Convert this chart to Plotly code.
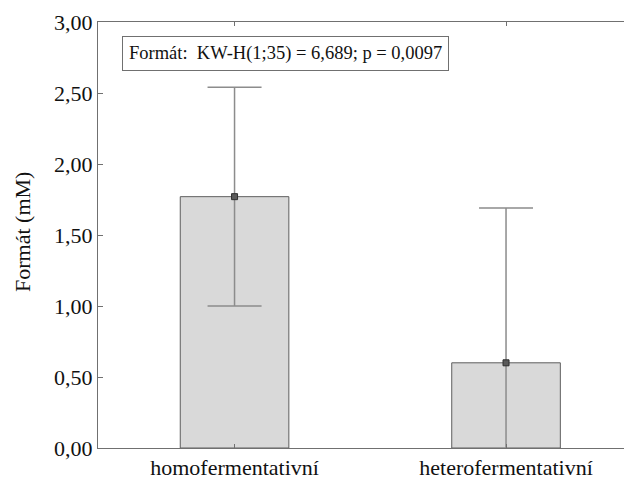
import plotly.graph_objects as go

categories = ["homofermentativní", "heterofermentativní"]
means = [1.77, 0.60]
sd = [0.77, 1.09]
y_ticks = [0.0, 0.5, 1.0, 1.5, 2.0, 2.5, 3.0]
stat_text = "Formát:\u00a0 KW-H(1;35) = 6,689; p = 0,0097"
y_title = "Formát (mM)"

FONT = "Liberation Serif"

# the page body adds an 8px offset; figure is sized so the plot lands where the reference has it
W, H = 624, 471
ML, MT, MB, MR = 90, 14, 31, 0
PW = W - ML - MR
PH = H - MT - MB

fig = go.Figure()
fig.add_trace(go.Bar(
    x=categories, y=means, width=0.40,
    marker=dict(color="#d9d9d9", line=dict(color="#5e5e5e", width=1)),
    error_y=dict(type="data", array=sd, visible=True, color="#8c8c8c",
                 thickness=1.5, width=27),
    showlegend=False, hoverinfo="skip",
))
fig.add_trace(go.Scatter(
    x=categories, y=means, mode="markers",
    marker=dict(symbol="square", size=6, color="#5a5a5a",
                line=dict(color="#2e2e2e", width=1)),
    showlegend=False, hoverinfo="skip",
))

fig.update_layout(
    width=W, height=H,
    margin=dict(l=ML, r=MR, t=MT, b=MB, autoexpand=False),
    paper_bgcolor="white", plot_bgcolor="white",
    separators=", ",
    font=dict(family=FONT, size=22, color="#111111"),
    xaxis=dict(type="category", range=[-0.503, 1.464],
               showline=True, linecolor="#707070", linewidth=1,
               mirror="ticks", ticks="inside", ticklen=4, tickcolor="#707070",
               showgrid=False, zeroline=False, automargin=False,
               tickfont=dict(family=FONT, size=22, color="#111111")),
    yaxis=dict(range=[0, 3], tickvals=y_ticks, tickformat=".2f",
               showline=True, linecolor="#707070", linewidth=1,
               ticks="inside", ticklen=5, tickcolor="#707070",
               showgrid=False, zeroline=False, automargin=False,
               tickfont=dict(family=FONT, size=22, color="#111111")),
    annotations=[
        dict(text=stat_text, xref="paper", yref="paper",
             x=0.045, y=0.967, xanchor="left", yanchor="top",
             showarrow=False, font=dict(family=FONT, size=18.5, color="#111111"),
             bgcolor="white", bordercolor="#707070", borderwidth=1, borderpad=6),
        dict(text=y_title, xref="paper", yref="paper",
             x=(14 - ML) / PW, y=(440 - 224) / PH, xanchor="center", yanchor="middle",
             textangle=-90, showarrow=False,
             font=dict(family=FONT, size=22, color="#111111")),
    ],
)

fig.write_html("out.html")
